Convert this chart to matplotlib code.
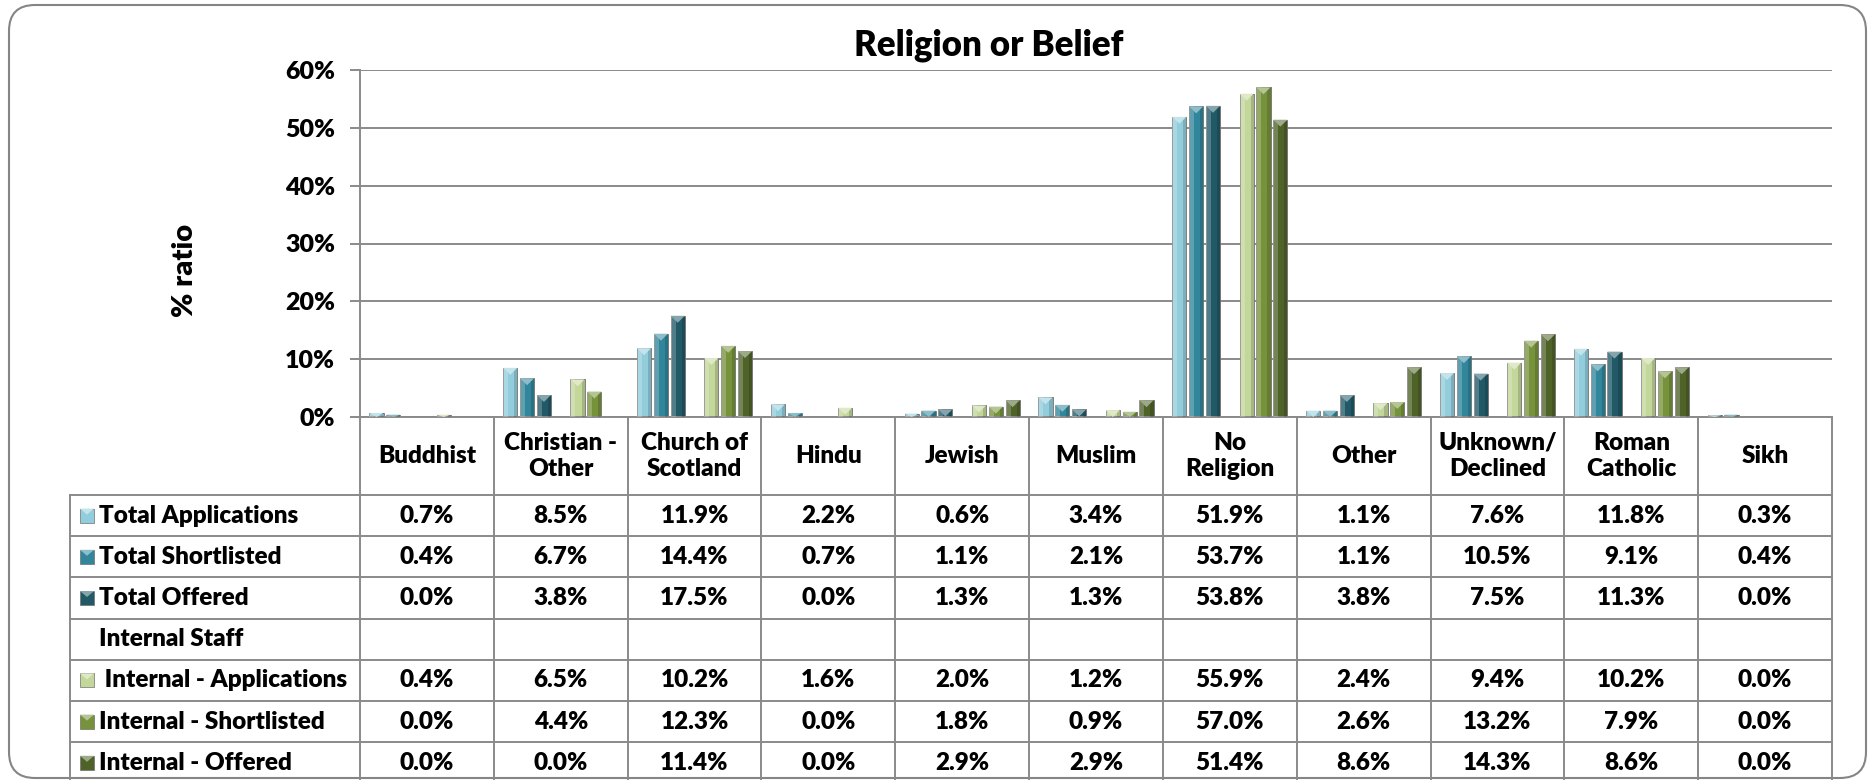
import numpy as np
import matplotlib.pyplot as plt
from matplotlib.patches import Rectangle, Polygon, FancyBboxPatch
from matplotlib.colors import to_rgb

plt.rcParams['font.family'] = ['Lato', 'DejaVu Sans']
plt.rcParams['font.weight'] = 'heavy'

# Data (percent of each group)
categories = ['Buddhist', 'Christian -\nOther', 'Church of\nScotland', 'Hindu', 'Jewish',
              'Muslim', 'No\nReligion', 'Other', 'Unknown/\nDeclined', 'Roman\nCatholic', 'Sikh']

total_applications = [0.7, 8.5, 11.9, 2.2, 0.6, 3.4, 51.9, 1.1, 7.6, 11.8, 0.3]
total_shortlisted = [0.4, 6.7, 14.4, 0.7, 1.1, 2.1, 53.7, 1.1, 10.5, 9.1, 0.4]
total_offered = [0.0, 3.8, 17.5, 0.0, 1.3, 1.3, 53.8, 3.8, 7.5, 11.3, 0.0]
internal_staff = [None] * 11
internal_applications = [0.4, 6.5, 10.2, 1.6, 2.0, 1.2, 55.9, 2.4, 9.4, 10.2, 0.0]
internal_shortlisted = [0.0, 4.4, 12.3, 0.0, 1.8, 0.9, 57.0, 2.6, 13.2, 7.9, 0.0]
internal_offered = [0.0, 0.0, 11.4, 0.0, 2.9, 2.9, 51.4, 8.6, 14.3, 8.6, 0.0]

series_names = ['Total Applications', 'Total Shortlisted', 'Total Offered', 'Internal Staff',
                ' Internal - Applications', 'Internal - Shortlisted', 'Internal - Offered']
series_values = [total_applications, total_shortlisted, total_offered, internal_staff,
                 internal_applications, internal_shortlisted, internal_offered]
series_colors = ['#92CDDC', '#31869B', '#215967', None, '#C4D79B', '#76933C', '#4F6228']


def lighter(c, amt):
    r, g, b = to_rgb(c)
    return (r + (1 - r) * amt, g + (1 - g) * amt, b + (1 - b) * amt)


W, H = 1868, 780
fig = plt.figure(figsize=(W / 100, H / 100), dpi=100)

# background layer in pixel units for frame, table and titles
bg = fig.add_axes([0, 0, 1, 1], zorder=0)
bg.set_xlim(0, W)
bg.set_ylim(H, 0)
bg.axis('off')

grey = '#8a8a8a'
bg.add_patch(FancyBboxPatch((9, 5), 1857, 773, boxstyle='round,pad=0,rounding_size=26',
                            fc='white', ec='#858585', lw=1.5))

# chart area
left, right, y0, y60 = 360, 1832, 417, 70
ax = fig.add_axes([left / W, (H - y0) / H, (right - left) / W, (y0 - y60) / H], zorder=1)
ax.patch.set_alpha(0)
ax.set_xlim(-0.5, len(categories) - 0.5)
ax.set_ylim(0, 60)
ax.set_yticks(range(0, 61, 10))
ax.set_yticklabels([f'{t}%' for t in range(0, 61, 10)], fontsize=18)
ax.set_xticks([])
ax.yaxis.grid(True, color=grey, lw=1.4)
ax.set_axisbelow(True)
ax.tick_params(axis='y', length=7, width=1.4, color=grey, pad=11)
for s in ['top', 'right']:
    ax.spines[s].set_visible(False)
for s in ['left', 'bottom']:
    ax.spines[s].set_color(grey)
    ax.spines[s].set_linewidth(1.4)

x = np.arange(len(categories))
n = len(series_names)
slot = 0.88 / n
bw = slot * 0.84
tri = 1.2  # height of the bevel triangle in % units

for i, (vals, col) in enumerate(zip(series_values, series_colors)):
    if col is None:
        continue
    v = np.array(vals, dtype=float)
    xc = x + (i - (n - 1) / 2) * slot
    ax.bar(xc, v, bw, color=col, edgecolor='#707070', lw=0.6, zorder=2)
    ax.bar(xc - bw / 2, v, bw * 0.35, align='edge', color='white', alpha=0.22, lw=0, zorder=3)
    ax.bar(xc + bw / 2 - bw * 0.22, v, bw * 0.22, align='edge', color='black', alpha=0.15, lw=0, zorder=3)
    for xx, vv in zip(xc, v):
        if vv > 0:
            th = min(tri, vv)
            ax.add_patch(Polygon([(xx - bw / 2, vv), (xx + bw / 2, vv), (xx, vv - th)],
                                 closed=True, fc=lighter(col, 0.45), ec='none', zorder=4))

# titles
bg.text(989, 45, 'Religion or Belief', ha='center', va='center', fontsize=25)
bg.text(185, 270, '% ratio', ha='center', va='center', rotation=90, fontsize=21)

# data table
cols = np.linspace(left, right, len(categories) + 1)
hdr_bottom = 495
row_h = 41.2
for cx in cols:
    bg.plot([cx, cx], [y0, H], color=grey, lw=1.4)
bg.plot([70, 70], [hdr_bottom, H], color=grey, lw=1.4)
for k in range(n + 1):
    yy = hdr_bottom + k * row_h
    bg.plot([70, right], [yy, yy], color=grey, lw=1.4)

fs = 17.5
for j, cat in enumerate(categories):
    bg.text((cols[j] + cols[j + 1]) / 2, 456, cat, ha='center', va='center',
            fontsize=fs, linespacing=1.25)

for i, (name, vals, col) in enumerate(zip(series_names, series_values, series_colors)):
    yc = hdr_bottom + (i + 0.5) * row_h
    if col is not None:
        bg.add_patch(Rectangle((80, yc - 7), 14, 14, fc=col, ec='#707070', lw=0.5))
        bg.add_patch(Polygon([(80, yc - 7), (94, yc - 7), (87, yc - 1)], closed=True,
                             fc=lighter(col, 0.45), ec='none'))
    bg.text(99, yc, name, ha='left', va='center', fontsize=fs)
    for j, v in enumerate(vals):
        if v is None:
            continue
        bg.text((cols[j] + cols[j + 1]) / 2, yc, f'{v:.1f}%', ha='center', va='center', fontsize=fs)

fig.savefig('out.png', dpi=100)
